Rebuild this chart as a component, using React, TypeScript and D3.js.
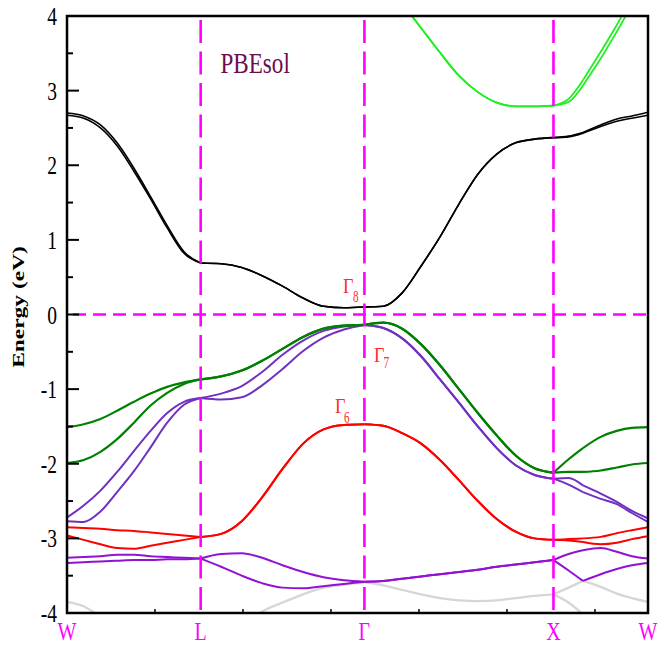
import React from "react";
import * as d3 from "d3";

// ---- data ----
const kSym = [0, 0.7071, 1.5731, 2.5731, 3.0731];
const kSymLabels = ["W", "L", "Γ", "X", "W"];
const yTicks = [-4, -3, -2, -1, 0, 1, 2, 3, 4];

const kGrid = [
  0, 0.088, 0.177, 0.265, 0.354, 0.442, 0.53, 0.619, 0.7071,
  0.815, 0.924, 1.032, 1.14, 1.249, 1.357, 1.465, 1.5731,
  1.673, 1.773, 1.873, 1.973, 2.073, 2.173, 2.273, 2.373, 2.473, 2.5731,
  2.653, 2.729, 2.823, 2.908, 2.988, 3.0731,
];
// indices where bands may have kinks (L, Γ, X, band crossing)
const breakIdx = [0, 8, 16, 26, 28, 32];

const N = null;
const black1 = [
  2.70, 2.66, 2.54, 2.30, 1.96, 1.58, 1.19, 0.84, 0.69,
  0.68, 0.63, 0.52, 0.38, 0.22, 0.11, 0.09, 0.10,
  0.11, 0.29, 0.65, 1.04, 1.48, 1.88, 2.15, 2.30, 2.35, 2.37,
  2.39, 2.44, 2.54, 2.62, 2.66, 2.71,
];
const black2 = [
  2.67, 2.63, 2.50, 2.26, 1.92, 1.55, 1.16, 0.82, 0.69,
  0.68, 0.63, 0.52, 0.38, 0.22, 0.11, 0.09, 0.10,
  0.11, 0.29, 0.65, 1.04, 1.48, 1.88, 2.15, 2.30, 2.35, 2.37,
  2.38, 2.43, 2.52, 2.59, 2.63, 2.67,
];
const lime1 = [
  N, N, N, N, N, N, N, N, N,
  N, N, N, N, N, N, N, 5.0,
  4.5, 4.17, 3.84, 3.51, 3.2, 2.98, 2.84, 2.79, 2.79, 2.8,
  2.89, 3.14, 3.52, 3.88, 4.25, 4.65,
];
const lime2 = [
  N, N, N, N, N, N, N, N, N,
  N, N, N, N, N, N, N, 5.0,
  4.5, 4.17, 3.84, 3.51, 3.2, 2.98, 2.84, 2.79, 2.79, 2.8,
  2.85, 3.07, 3.43, 3.79, 4.15, 4.55,
];
const green1 = [
  -1.51, -1.47, -1.40, -1.29, -1.17, -1.06, -0.97, -0.91, -0.87,
  -0.83, -0.75, -0.62, -0.46, -0.30, -0.19, -0.15, -0.14,
  -0.11, -0.19, -0.40, -0.68, -1.00, -1.32, -1.62, -1.89, -2.06, -2.12,
  -1.94, -1.79, -1.64, -1.56, -1.52, -1.51,
];
const green2 = [
  -1.99, -1.95, -1.84, -1.67, -1.45, -1.22, -1.05, -0.93, -0.87,
  -0.83, -0.75, -0.62, -0.46, -0.30, -0.19, -0.15, -0.14,
  -0.11, -0.19, -0.40, -0.68, -1.00, -1.32, -1.62, -1.89, -2.06, -2.12,
  -2.11, -2.11, -2.09, -2.05, -2.01, -1.99,
];
const purple1 = [
  -2.72, -2.56, -2.36, -2.11, -1.83, -1.56, -1.32, -1.17, -1.12,
  -1.06, -0.96, -0.77, -0.54, -0.35, -0.22, -0.16, -0.14,
  -0.18, -0.32, -0.56, -0.87, -1.18, -1.50, -1.79, -2.02, -2.15, -2.20,
  -2.19, -2.29, -2.40, -2.51, -2.63, -2.73,
];
const purple2 = [
  -2.77, -2.78, -2.64, -2.38, -2.10, -1.78, -1.45, -1.21, -1.12,
  -1.14, -1.11, -0.95, -0.73, -0.49, -0.31, -0.20, -0.14,
  -0.18, -0.32, -0.56, -0.87, -1.18, -1.50, -1.79, -2.02, -2.15, -2.20,
  -2.28, -2.38, -2.47, -2.54, -2.66, -2.78,
];
const red1 = [
  -2.85, -2.86, -2.87, -2.89, -2.90, -2.92, -2.94, -2.96, -2.98,
  -2.94, -2.77, -2.45, -2.07, -1.73, -1.54, -1.48, -1.47,
  -1.49, -1.59, -1.73, -1.95, -2.22, -2.50, -2.74, -2.91, -3.00, -3.02,
  -3.01, -3.00, -2.98, -2.93, -2.89, -2.85,
];
const red2 = [
  -2.96, -3.02, -3.08, -3.13, -3.14, -3.10, -3.06, -3.02, -2.98,
  -2.94, -2.77, -2.45, -2.07, -1.73, -1.54, -1.48, -1.47,
  -1.49, -1.59, -1.73, -1.95, -2.22, -2.50, -2.74, -2.91, -3.00, -3.02,
  -3.03, -3.05, -3.08, -3.06, -3.01, -2.97,
];
const violet1 = [
  -3.26, -3.25, -3.24, -3.22, -3.22, -3.24, -3.25, -3.26, -3.27,
  -3.21, -3.20, -3.26, -3.36, -3.45, -3.52, -3.56, -3.58,
  -3.57, -3.54, -3.51, -3.48, -3.45, -3.42, -3.38, -3.35, -3.32, -3.29,
  -3.21, -3.16, -3.13, -3.18, -3.24, -3.27,
];
const violet2 = [
  -3.33, -3.32, -3.31, -3.30, -3.29, -3.29, -3.28, -3.28, -3.27,
  -3.38, -3.50, -3.60, -3.66, -3.67, -3.64, -3.61, -3.58,
  -3.57, -3.54, -3.51, -3.48, -3.45, -3.42, -3.38, -3.35, -3.32, -3.29,
  -3.43, -3.57, -3.48, -3.41, -3.36, -3.33,
];
const gray1 = [
  -3.85, -3.91, -4.05, -4.20, -4.33, -4.43, -4.48, -4.50, -4.50,
  -4.40, -4.18, -3.98, -3.86, -3.75, -3.66, -3.62, -3.59,
  -3.63, -3.69, -3.75, -3.80, -3.83, -3.84, -3.83, -3.80, -3.77, -3.75,
  -3.66, -3.57, -3.65, -3.74, -3.80, -3.85,
];
const gray2 = [
  N, N, N, N, N, N, N, N, N,
  N, N, N, N, N, N, N, N,
  N, N, N, N, N, N, N, N, N, -3.75,
  -3.86, -4.02, -4.20, -4.35, -4.45, -4.50,
];

const bands = [
  { values: gray1, color: "#d6d6d6", w: 2.3 },
  { values: gray2, color: "#d6d6d6", w: 2.3 },
  { values: violet1, color: "#9212d2", w: 2 },
  { values: violet2, color: "#9212d2", w: 2 },
  { values: red1, color: "#ff0000", w: 2 },
  { values: red2, color: "#ff0000", w: 2 },
  { values: purple1, color: "#7030c2", w: 2 },
  { values: purple2, color: "#7030c2", w: 2 },
  { values: green1, color: "#008000", w: 2.2 },
  { values: green2, color: "#008000", w: 2.2 },
  { values: black1, color: "#000000", w: 1.6 },
  { values: black2, color: "#000000", w: 1.6 },
  { values: lime1, color: "#22ee22", w: 1.8 },
  { values: lime2, color: "#22ee22", w: 1.8 },
];

// ---- layout ----
const W = 670, H = 646;
const left = 67, right = 648, top = 16, bottom = 613;

export default function App() {
  const x = d3.scaleLinear().domain([0, 3.0731]).range([left, right]);
  const y = d3.scaleLinear().domain([-4, 4]).range([bottom, top]);
  const line = d3
    .line<[number, number]>()
    .x((d) => x(d[0]))
    .y((d) => y(d[1]))
    .curve(d3.curveMonotoneX);

  const paths: { d: string; color: string; w: number }[] = [];
  bands.forEach((b) => {
    for (let s = 0; s < breakIdx.length - 1; s++) {
      const pts: [number, number][] = [];
      for (let i = breakIdx[s]; i <= breakIdx[s + 1]; i++) {
        const v = b.values[i];
        if (v !== null && v !== undefined) pts.push([kGrid[i], v as number]);
      }
      if (pts.length >= 2) paths.push({ d: line(pts) || "", color: b.color, w: b.w });
    }
  });

  const minorY = d3.range(-3.5, 4, 1);
  const bottomMinor = d3.range(1, 7).map((i) => left + 88 * i);
  const serif = "'Liberation Serif', 'DejaVu Serif', serif";

  return (
    <svg
      width={W}
      height={H}
      style={{ position: "absolute", left: 0, top: 0, background: "#fff" }}
      fontFamily={serif}
    >
      <defs>
        <clipPath id="plotClip">
          <rect x={left} y={top} width={right - left} height={bottom - top} />
        </clipPath>
      </defs>
      <rect x={0} y={0} width={W} height={H} fill="#fff" />
      <g clipPath="url(#plotClip)">
        {paths.map((p, i) => (
          <path key={i} d={p.d} fill="none" stroke={p.color} strokeWidth={p.w} strokeLinejoin="round" />
        ))}
        {kSym.slice(1, 4).map((k, i) => (
          <line
            key={"v" + i}
            x1={x(k)}
            x2={x(k)}
            y1={top + 4}
            y2={bottom}
            stroke="#ff00ff"
            strokeWidth={2.6}
            strokeDasharray="23,8.5"
          />
        ))}
        <line
          x1={left + 6}
          x2={right}
          y1={y(0)}
          y2={y(0)}
          stroke="#ff00ff"
          strokeWidth={2.6}
          strokeDasharray="13,7"
        />
      </g>
      {/* frame */}
      <rect x={left} y={top} width={right - left} height={bottom - top} fill="none" stroke="#000" strokeWidth={2.5} />
      {/* y ticks */}
      {yTicks.map((t) => (
        <g key={"yt" + t}>
          <line x1={left} x2={left + 12} y1={y(t)} y2={y(t)} stroke="#000" strokeWidth={2} />
          <text
            transform={`translate(57,${y(t) + 9}) scale(0.78,1)`}
            textAnchor="end"
            fontSize={25}
            fill="#000"
          >
            {t}
          </text>
        </g>
      ))}
      {minorY.map((t) => (
        <line key={"ym" + t} x1={left} x2={left + 6} y1={y(t)} y2={y(t)} stroke="#000" strokeWidth={2} />
      ))}
      {bottomMinor.map((bx) => (
        <line key={"bm" + bx} x1={bx} x2={bx} y1={bottom} y2={bottom - 4} stroke="#000" strokeWidth={1.5} />
      ))}
      {/* x labels */}
      {kSym.map((k, i) => (
        <text
          key={"xl" + i}
          transform={`translate(${x(k)},640) scale(0.8,1.05)`}
          textAnchor="middle"
          fontSize={25}
          fill="#ff00ff"
        >
          {kSymLabels[i]}
        </text>
      ))}
      {/* y axis title */}
      <text
        transform="translate(24,307) rotate(-90) scale(1.38,1)"
        textAnchor="middle"
        fontSize={17}
        fontWeight="bold"
        fill="#000"
      >
        Energy (eV)
      </text>
      {/* annotation */}
      <text transform="translate(220.5,72.5) scale(0.77,1)" fontSize={30} fill="#6b0d4b">
        PBEsol
      </text>
      {/* Gamma labels */}
      <g fill="#ff2a2a">
        <text transform="translate(343,293) scale(0.9,1)" fontSize={20}>Γ</text>
        <text transform="translate(353,302) scale(0.7,1)" fontSize={16}>8</text>
        <text transform="translate(374,362) scale(0.9,1)" fontSize={20}>Γ</text>
        <text transform="translate(383.5,368) scale(0.7,1)" fontSize={16}>7</text>
        <text transform="translate(335,413) scale(0.9,1)" fontSize={20}>Γ</text>
        <text transform="translate(344,423) scale(0.7,1)" fontSize={16}>6</text>
      </g>
    </svg>
  );
}
